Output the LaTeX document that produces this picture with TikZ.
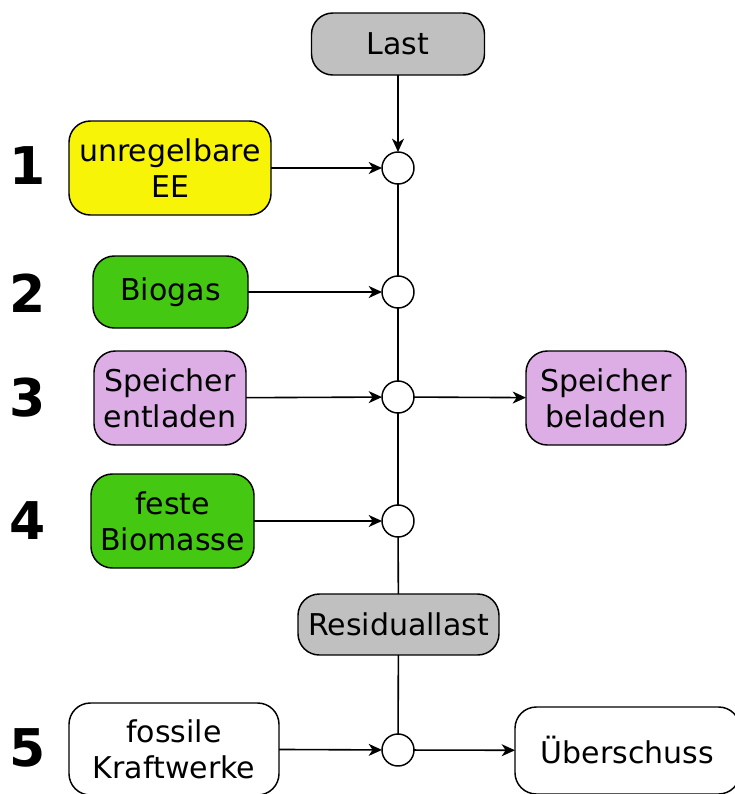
\documentclass[tikz,border=0pt]{standalone}
\usepackage{fontspec}
\setmainfont{DejaVu Sans}
\usetikzlibrary{arrows.meta}
\definecolor{cyel}{HTML}{F7F408}
\definecolor{cgrn}{HTML}{44C812}
\definecolor{cpur}{HTML}{DCAEE5}
\definecolor{cgry}{HTML}{C0C0C0}
\tikzset{
  box/.style={draw, line width=1.1pt, rounded corners=16pt, inner sep=0pt, outer sep=0pt, align=center,
    font=\fontsize{22.5}{27}\selectfont},
  junc/.style={draw, circle, fill=white, line width=1.1pt, minimum size=24pt, inner sep=0pt, outer sep=0pt},
  num/.style={font=\fontsize{39}{39}\selectfont\bfseries, inner sep=0pt},
  conn/.style={line width=1.2pt},
  arr/.style={line width=1.2pt, -{Stealth[length=10pt,width=9pt,inset=3pt]}}
}
\begin{document}
\begin{tikzpicture}[x=0.75pt,y=-0.75pt]
\useasboundingbox (0,0) rectangle (735,794);
% nodes
\node[box, fill=cgry, minimum width=129.75pt, minimum height=46.5pt] (last) at (398,44) {Last};
\node[junc] (c1) at (398,168) {};
\node[junc] (c2) at (398,292) {};
\node[junc] (c3) at (398,397) {};
\node[junc] (c4) at (398,521) {};
\node[junc] (c5) at (398,750) {};
\node[box, fill=cyel, minimum width=151.5pt, minimum height=70.5pt] (ee) at (170,168) {unregelbare\\EE};
\node[box, fill=cgrn, minimum width=116.25pt, minimum height=54pt] (bg) at (170.5,292) {Biogas};
\node[box, fill=cpur, minimum width=114pt, minimum height=70.5pt] (se) at (170,398) {Speicher\\entladen};
\node[box, fill=cpur, minimum width=120pt, minimum height=70.5pt] (sb) at (606,398) {Speicher\\beladen};
\node[box, fill=cgrn, minimum width=122.25pt, minimum height=70.5pt] (fb) at (172.5,521) {feste\\Biomasse};
\node[box, fill=cgry, minimum width=150.75pt, minimum height=45.75pt] (rl) at (398.5,624.5) {Residuallast};
\node[box, fill=white, minimum width=157.5pt, minimum height=69pt] (fk) at (174,749) {fossile\\Kraftwerke};
\node[box, fill=white, minimum width=168.75pt, minimum height=65.25pt] (ub) at (627.5,750.5) {Überschuss};
% numbers
\node[num] (n1) at (28,166) {1};
\node[num] (n2) at (28,293) {2};
\node[num] (n3) at (28,398) {3};
\node[num] (n4) at (28,521) {4};
\node[num] (n5) at (28,748) {5};
% connectors
\draw[arr] (last) -- (c1);
\draw[conn] (c1) -- (c2);
\draw[conn] (c2) -- (c3);
\draw[conn] (c3) -- (c4);
\draw[conn] (c4) -- (rl);
\draw[conn] (rl) -- (c5);
\draw[arr] (ee) -- (c1);
\draw[arr] (bg) -- (c2);
\draw[arr] (se) -- (c3);
\draw[arr] (c3) -- (sb);
\draw[arr] (fb) -- (c4);
\draw[arr] (fk) -- (c5);
\draw[arr] (c5) -- (ub);
\end{tikzpicture}
\end{document}
